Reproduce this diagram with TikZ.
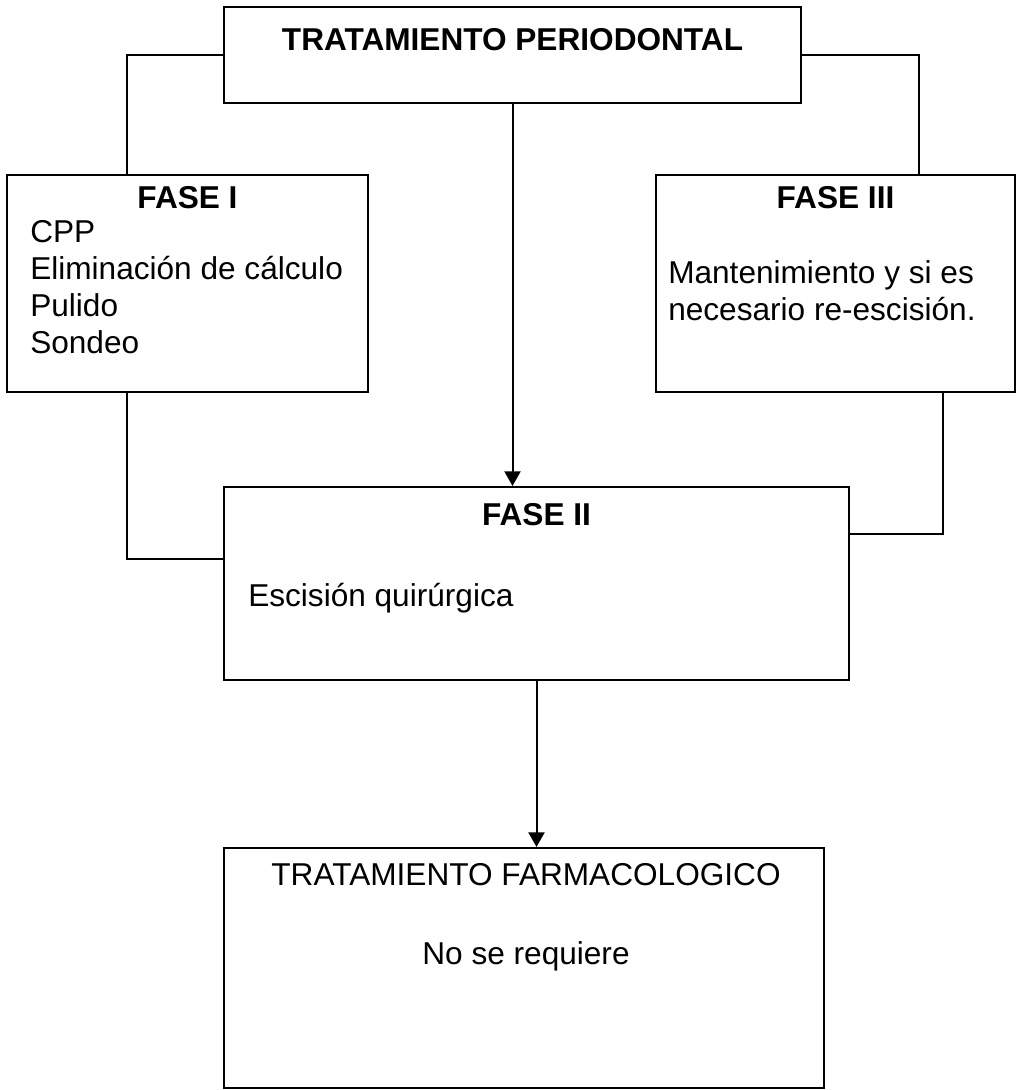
\documentclass[tikz,border=0pt]{standalone}
\usepackage{fontspec}
\setmainfont{Liberation Sans}
\usetikzlibrary{arrows.meta,positioning}
\tikzset{
  fasebox/.style={draw, rectangle, line width=1.5pt, inner sep=0pt},
  fasetxt/.style={inner sep=0pt, font=\fontsize{23.7}{27.8}\selectfont},
  fasehead/.style={inner sep=0pt, font=\fontsize{23.7}{27.8}\selectfont\bfseries},
  enlace/.style={line width=1.5pt},
  flecha/.style={line width=1.5pt, -{Triangle[length=11pt, width=12pt]}},
}

\begin{document}
\begin{tikzpicture}[x=0.75pt, y=-0.75pt]
\useasboundingbox (0,0) rectangle (1016,1090);
% cajas
\node[fasebox, minimum width=432.75pt, minimum height=72pt] (top) at (512.5,55) {};
\node[fasebox, minimum width=270.75pt, minimum height=162.75pt] (f1) at (187.5,283.5) {};
\node[fasebox, minimum width=269.25pt, minimum height=162.75pt] (f3) at (835.5,283.5) {};
\node[fasebox, minimum width=468.75pt, minimum height=144.75pt] (f2) at (536.5,583.5) {};
\node[fasebox, minimum width=450pt, minimum height=180pt] (farm) at (524,968) {};
% textos
\node[fasehead, anchor=base] (ttl) at (512.5,50) {TRATAMIENTO PERIODONTAL};
\node[fasehead, anchor=base] (h1) at (187.5,208) {FASE I};
\node[fasetxt, anchor=north west, align=left] (t1) at (30,220) {CPP\\Eliminación de cálculo\\Pulido\\Sondeo};
\node[fasehead, anchor=base] (h3) at (835.5,208) {FASE III};
\node[fasetxt, anchor=north west, align=left] (t3) at (668,260) {Mantenimiento y si es\\necesario re-escisión.};
\node[fasehead, anchor=base] (h2) at (536.5,525) {FASE II};
\node[fasetxt, anchor=base west] (t2) at (248,606) {Escisión quirúrgica};
\node[fasetxt, anchor=base] (h4) at (526,885) {TRATAMIENTO FARMACOLOGICO};
\node[fasetxt, anchor=base] (t4) at (526,964) {No se requiere};
% conectores
\draw[enlace] (top.west) -| ([xshift=90.75pt]f1.north west);
\draw[enlace] (top.east) -| ([xshift=198pt]f3.north west);
\draw[enlace] ([xshift=90.75pt]f1.south west) |- ([yshift=-54.75pt]f2.north west);
\draw[enlace] ([xshift=216pt]f3.south west) |- ([yshift=-36pt]f2.north east);
\draw[flecha] (top.south) -- (top.south |- f2.north);
\draw[flecha] (f2.south) -- (f2.south |- farm.north);
\end{tikzpicture}
\end{document}
